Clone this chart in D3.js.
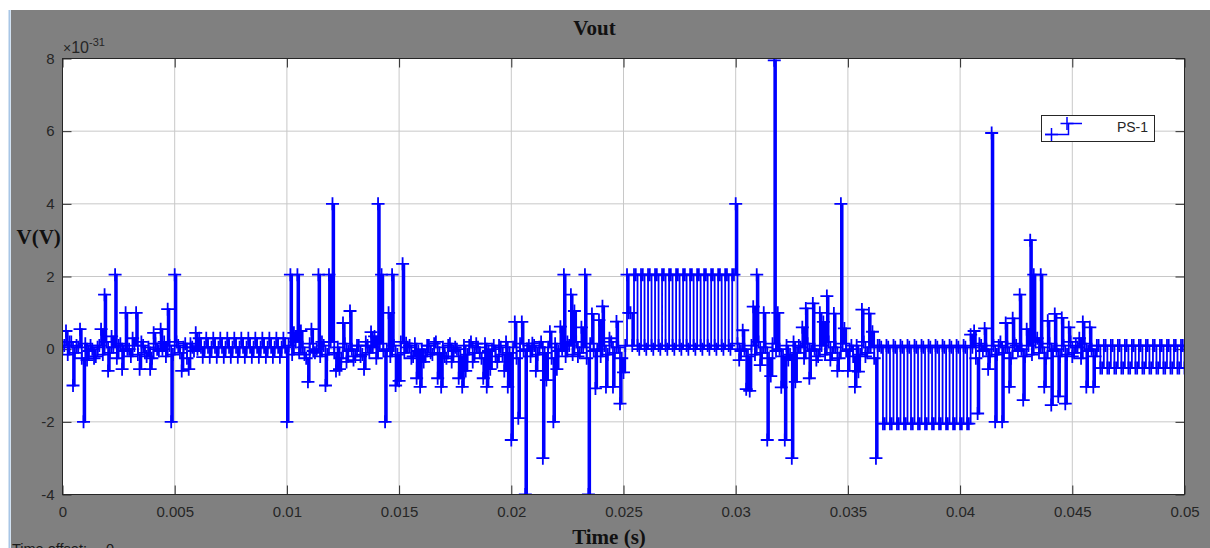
<!DOCTYPE html>
<html>
<head>
<meta charset="utf-8">
<script src="https://cdn.jsdelivr.net/npm/d3@7"></script>
<style>
  html, body { margin: 0; padding: 0; background: #fff; }
  svg { display: block; }
</style>
</head>
<body>
<svg id="chart" width="1210" height="548"></svg>
<script>
// Scope trace of Vout (units of 1e-31 V), logged at a fixed step over 0 .. 0.05 s
const vout = [
  0.05, 0.1, 0.5, -0.15, 0.2, 0.2, -1.0, -0.1, 0.1, 0.05, 0.55, -0.25, -2.0, 0.15, -0.3, -0.05, 0.1, 0.0, -0.25, -0.2,        // 0-19
  0.05, 0.1, 0.55, -0.15, 1.5, 0.2, -0.6, -0.1, 0.35, 0.05, 2.05, -0.25, 0.1, 0.15, -0.55, -0.05, 1.0, 0.0, 0.0, -0.2,        // 20-39
  0.3, 0.1, 1.0, -0.15, -0.55, 0.2, 0.1, -0.1, -0.2, 0.05, -0.55, -0.25, 0.45, 0.15, 0.0, -0.05, 0.55, 0.0, 0.2, -0.2,        // 40-59
  1.1, 0.1, -2.0, -0.15, 2.05, 0.2, 0.1, -0.1, -0.6, 0.05, 0.15, -0.25, -0.55, 0.15, 0.05, -0.05, 0.45, 0.0, 0.3, 0.05,      // 60-79
  -0.22, 0.05, 0.3, 0.05, -0.22, 0.05, 0.3, 0.05, -0.22, 0.05, 0.3, 0.05, -0.22, 0.05, 0.3, 0.05, -0.22, 0.05, 0.3, 0.05,   // 80-99
  -0.22, 0.05, 0.3, 0.05, -0.22, 0.05, 0.3, 0.05, -0.22, 0.05, 0.3, 0.05, -0.22, 0.05, 0.3, 0.05, -0.22, 0.05, 0.3, 0.05,   // 100-119
  -0.22, 0.05, 0.3, 0.05, -0.22, 0.05, 0.3, 0.05, -2.0, 0.1, 2.05, -0.15, 0.45, 0.2, 2.05, -0.1, 0.5, 0.05, -0.15, -0.25,   // 120-139
  -0.9, 0.15, 0.55, -0.05, -0.1, 0.0, 2.05, -0.2, 0.2, 0.1, -1.0, -0.15, 2.05, 0.2, 4.0, -0.1, -0.6, 0.05, -0.55, -0.25,     // 140-159
  0.72, 0.15, -0.35, -0.05, 1.05, 0.0, -0.3, -0.2, 0.1, 0.1, -0.2, -0.15, -0.55, 0.2, 0.1, -0.1, 0.47, 0.05, 0.35, -0.25,    // 160-179
  4.0, 0.15, 2.05, -0.05, -2.0, 0.0, 1.0, -0.2, 2.05, 0.1, -1.0, -0.15, -0.87, 0.2, 2.35, -0.1, 0.16, 0.05, 0.1, -0.25,      // 180-199
  -0.2, 0.15, -0.8, -0.05, -1.04, 0.0, -0.35, -0.2, 0.1, 0.1, -0.1, -0.15, 0.15, 0.2, -0.8, -0.1, -1.04, 0.05, -0.2, -0.25,  // 200-219
  0.1, 0.15, -0.35, -0.05, 0.05, 0.0, -0.8, -0.2, -1.04, 0.1, -0.6, -0.15, 0.1, 0.2, -0.35, -0.1, 0.15, 0.05, -0.1, -0.25,   // 220-239
  -0.8, 0.15, -1.04, -0.05, -0.55, 0.0, 0.1, -0.2, -0.35, 0.1, 0.05, -0.15, -0.6, 0.2, -1.04, -0.1, -2.5, 0.05, 0.75, -0.25, // 240-259
  -1.9, 0.15, 0.75, -0.05, -4.0, 0.0, 0.1, -0.2, 0.16, 0.1, -0.6, -0.15, 0.05, 0.2, -3.0, -0.1, -0.85, 0.05, 0.48, -0.25,    // 260-279
  -2.0, 0.15, -0.55, -0.05, 0.62, 0.0, 2.05, -0.2, 0.2, 0.1, 1.5, -0.15, 1.05, 0.2, -0.2, -0.1, 0.6, 0.05, 2.05, -0.25,      // 280-299
  -4.0, 0.15, 0.97, -0.05, -1.08, 0.0, 0.8, -0.2, 1.18, 0.1, -1.04, -0.15, 0.3, 0.2, -1.04, -0.1, 0.76, 0.05, -1.5, -0.25,   // 300-319
  -0.64, 0.1, 2.05, 1.0, 1.0, 0.1, 2.05, 2.05, 0.1, 0.0, 2.05, 2.05, 0.1, 0.0, 2.05, 2.05, 0.1, 0.0, 2.05, 2.05,             // 320-339
  0.1, 0.0, 2.05, 2.05, 0.1, 0.0, 2.05, 2.05, 0.1, 0.0, 2.05, 2.05, 0.1, 0.0, 2.05, 2.05, 0.1, 0.0, 2.05, 2.05,              // 340-359
  0.1, 0.0, 2.05, 2.05, 0.1, 0.0, 2.05, 2.05, 0.1, 0.0, 2.05, 2.05, 0.1, 0.0, 2.05, 2.05, 0.1, 0.0, 2.05, 2.05,              // 360-379
  0.1, 0.0, 2.05, 2.05, 4.0, 0.15, -0.3, -0.05, 0.52, 0.0, -1.1, -0.2, -1.15, 0.1, 1.17, -0.15, 2.05, 0.2, -0.44, -0.1,      // 380-399
  1.0, 0.05, -2.5, -0.25, -0.74, 0.15, 7.95, -0.05, 1.0, 0.0, -1.05, -0.2, -2.5, 0.1, -0.3, -0.15, -3.0, 0.2, -0.9, -0.1,    // 400-419
  0.1, 0.05, 0.6, -0.25, 1.12, 0.15, -0.8, -0.05, 1.26, 0.0, -0.3, -0.2, 1.0, 0.1, 0.75, -0.15, 1.46, 0.2, -0.3, -0.1,       // 420-439
  0.98, 0.05, -0.6, -0.25, 4.0, 0.15, 0.57, -0.05, -0.6, 0.0, 0.1, -0.2, -1.04, 0.1, -0.62, -0.15, 1.09, 0.2, -0.2, -0.1,    // 440-459
  0.98, 0.05, 0.48, -0.25, -3.0, 0.1, 0.1, 0.05, -2.05, -2.05, 0.1, 0.05, -2.05, -2.05, 0.1, 0.05, -2.05, -2.05, 0.1, 0.05,  // 460-479
  -2.05, -2.05, 0.1, 0.05, -2.05, -2.05, 0.1, 0.05, -2.05, -2.05, 0.1, 0.05, -2.05, -2.05, 0.1, 0.05, -2.05, -2.05, 0.1, 0.05, // 480-499
  -2.05, -2.05, 0.1, 0.05, -2.05, -2.05, 0.1, 0.05, -2.05, -2.05, 0.1, 0.05, -2.05, -2.05, 0.1, 0.05, -2.05, -2.05, 0.4, 0.05, // 500-519
  0.5, -0.25, -1.77, 0.15, 0.1, -0.05, 0.57, 0.0, -0.55, -0.2, 5.95, 0.1, -2.0, -0.15, 0.1, 0.2, -2.0, -0.1, 0.72, 0.05,     // 520-539
  -1.04, -0.25, 0.85, 0.15, 0.1, -0.05, 1.5, 0.0, -1.4, -0.2, 0.55, 0.1, 3.0, -0.15, 2.05, 0.2, 0.3, -0.1, 2.05, 0.05,       // 540-559
  -1.04, -0.25, 0.78, 0.15, -1.54, -0.05, 0.97, 0.0, -1.3, -0.2, 0.86, 0.1, -1.5, -0.15, 0.6, 0.2, -0.2, -0.1, 0.1, 0.05,    // 560-579
  0.3, -0.25, 0.75, 0.15, -1.04, -0.05, 0.6, 0.0, -1.04, -0.2, 0.1, 0.1, -0.52, -0.52, 0.1, 0.1, -0.52, -0.52, 0.1, 0.1,     // 580-599
  -0.52, -0.52, 0.1, 0.1, -0.52, -0.52, 0.1, 0.1, -0.52, -0.52, 0.1, 0.1, -0.52, -0.52, 0.1, 0.1, -0.52, -0.52, 0.1, 0.1,    // 600-619
  -0.52, -0.52, 0.1, 0.1, -0.52, -0.52, 0.1, 0.1, -0.52, -0.52, 0.1, 0.1, -0.52, -0.52, 0.1, 0.1, -0.52, -0.52, 0.1, 0.1,    // 620-639
  -0.52                                                                                                                      // 640
];

const timeSpan = [0, 0.05];
const voltSpan = [-4, 8];
const xTicks = [0, 0.005, 0.01, 0.015, 0.02, 0.025, 0.03, 0.035, 0.04, 0.045, 0.05];
const xTickLabels = ["0", "0.005", "0.01", "0.015", "0.02", "0.025", "0.03", "0.035", "0.04", "0.045", "0.05"];
const yTicks = [-4, -2, 0, 2, 4, 6, 8];
const yTickLabels = ["-4", "-2", "0", "2", "4", "6", "8"];
const seriesName = "PS-1";

// fixed-step solver: one logged sample every sampleTime seconds
const sampleTime = (timeSpan[1] - timeSpan[0]) / (vout.length - 1);
const samples = vout.map((v, i) => ({ t: timeSpan[0] + i * sampleTime, v }));

const svg = d3.select("#chart");
const W = 1210, H = 548;

// figure window
svg.append("rect").attr("width", W).attr("height", H).attr("fill", "#ffffff");
svg.append("rect").attr("x", 11).attr("y", 10).attr("width", W - 11).attr("height", H - 10).attr("fill", "#808080");
svg.append("line").attr("x1", 9.5).attr("x2", 9.5).attr("y1", 10).attr("y2", H)
  .attr("stroke", "#a8c6e6").attr("stroke-width", 2);

const plot = { left: 62.5, right: 1184.5, top: 58.5, bottom: 494.5 };
const x = d3.scaleLinear().domain(timeSpan).range([plot.left, plot.right]);
const y = d3.scaleLinear().domain(voltSpan).range([plot.bottom, plot.top]);

// axes background
svg.append("rect")
  .attr("x", plot.left).attr("y", plot.top)
  .attr("width", plot.right - plot.left).attr("height", plot.bottom - plot.top)
  .attr("fill", "#ffffff");

// grid
const grid = svg.append("g").attr("stroke", "#c8c8c8").attr("stroke-width", 1);
grid.selectAll("line.gx").data(xTicks.slice(1, -1)).join("line")
  .attr("class", "gx")
  .attr("x1", d => x(d)).attr("x2", d => x(d))
  .attr("y1", plot.top).attr("y2", plot.bottom);
grid.selectAll("line.gy").data(yTicks.slice(1, -1)).join("line")
  .attr("class", "gy")
  .attr("x1", plot.left).attr("x2", plot.right)
  .attr("y1", d => y(d)).attr("y2", d => y(d));

// axes with inward tick marks on all four sides
const tickLen = 9;
const sans = "'Liberation Sans', Arial, sans-serif";
const styleAxis = g => {
  g.select(".domain").remove();
  g.selectAll(".tick line").attr("stroke", "#2b2b2b").attr("stroke-width", 1);
  g.selectAll(".tick text")
    .attr("fill", "#262626")
    .style("font-family", sans)
    .style("font-size", "15px");
};
svg.append("g").attr("transform", `translate(0,${plot.bottom})`)
  .call(d3.axisBottom(x).tickValues(xTicks).tickSize(-tickLen).tickPadding(12)
    .tickFormat((d, i) => xTickLabels[i]))
  .call(styleAxis);
svg.append("g").attr("transform", `translate(0,${plot.top})`)
  .call(d3.axisTop(x).tickValues(xTicks).tickSize(-tickLen).tickFormat(""))
  .call(styleAxis);
svg.append("g").attr("transform", `translate(${plot.left},0)`)
  .call(d3.axisLeft(y).tickValues(yTicks).tickSize(-tickLen).tickPadding(8)
    .tickFormat((d, i) => yTickLabels[i]))
  .call(styleAxis);
svg.append("g").attr("transform", `translate(${plot.right},0)`)
  .call(d3.axisRight(y).tickValues(yTicks).tickSize(-tickLen).tickFormat(""))
  .call(styleAxis);

// trace, clipped to the axes box
svg.append("clipPath").attr("id", "plotClip").append("rect")
  .attr("x", plot.left).attr("y", plot.top)
  .attr("width", plot.right - plot.left).attr("height", plot.bottom - plot.top);

const traceColor = "#0000ff";
const traceWidth = 1.8;
const trace = svg.append("g").attr("clip-path", "url(#plotClip)");
const stairs = d3.line().x(d => x(d.t)).y(d => y(d.v)).curve(d3.curveStepAfter);
trace.append("path").datum(samples)
  .attr("d", stairs)
  .attr("fill", "none").attr("stroke", traceColor).attr("stroke-width", traceWidth);

const plusMarker = "M-6.5,0H6.5M0,-6.5V6.5";
trace.selectAll("path.mk").data(samples).join("path")
  .attr("class", "mk")
  .attr("d", plusMarker)
  .attr("transform", d => `translate(${x(d.t)},${y(d.v)})`)
  .attr("fill", "none").attr("stroke", traceColor).attr("stroke-width", traceWidth);

// axes frame
svg.append("rect")
  .attr("x", plot.left).attr("y", plot.top)
  .attr("width", plot.right - plot.left).attr("height", plot.bottom - plot.top)
  .attr("fill", "none").attr("stroke", "#262626").attr("stroke-width", 1);

// exponent multiplier above the y axis
const expo = svg.append("text")
  .attr("x", 63).attr("y", 53)
  .attr("fill", "#262626")
  .style("font-family", sans)
  .style("font-size", "16px");
expo.append("tspan").text("\u00d7").style("font-size", "14px");
expo.append("tspan").text("10");
expo.append("tspan").text("-31").attr("dy", -7).style("font-size", "11px");

// titles
const serif = "'Liberation Serif', 'Times New Roman', serif";
svg.append("text").attr("x", 594.5).attr("y", 35).attr("text-anchor", "middle")
  .attr("fill", "#111").style("font-family", serif).style("font-weight", "bold")
  .style("font-size", "21px").text("Vout");
svg.append("text").attr("x", 609).attr("y", 544).attr("text-anchor", "middle")
  .attr("fill", "#111").style("font-family", serif).style("font-weight", "bold")
  .style("font-size", "21px").text("Time (s)");
svg.append("text").attr("x", 16.5).attr("y", 244)
  .attr("fill", "#111").style("font-family", serif).style("font-weight", "bold")
  .style("font-size", "21px").text("V(V)");

// time offset readout along the lower edge of the window
svg.append("text").attr("x", 12).attr("y", 554)
  .attr("fill", "#1a1a1a").style("font-family", sans).style("font-size", "14.5px")
  .text("Time offset:");
svg.append("text").attr("x", 106).attr("y", 554)
  .attr("fill", "#1a1a1a").style("font-family", sans).style("font-size", "14.5px")
  .text("0");

// legend
const legend = svg.append("g");
legend.append("rect")
  .attr("x", 1041.5).attr("y", 115.5).attr("width", 113).attr("height", 26)
  .attr("fill", "#ffffff").attr("stroke", "#262626").attr("stroke-width", 1);
legend.append("path")
  .attr("d", "M1045,134.5H1068.5V123.5H1082")
  .attr("fill", "none").attr("stroke", traceColor).attr("stroke-width", 1.5);
legend.selectAll("path.lmk").data([[1051.5, 134.5], [1067, 123.5]]).join("path")
  .attr("class", "lmk")
  .attr("d", plusMarker)
  .attr("transform", d => `translate(${d[0]},${d[1]})`)
  .attr("fill", "none").attr("stroke", traceColor).attr("stroke-width", 1.5);
legend.append("text")
  .attr("x", 1148).attr("y", 132).attr("text-anchor", "end")
  .attr("fill", "#262626").style("font-family", sans).style("font-size", "14px")
  .text(seriesName);
</script>
</body>
</html>
